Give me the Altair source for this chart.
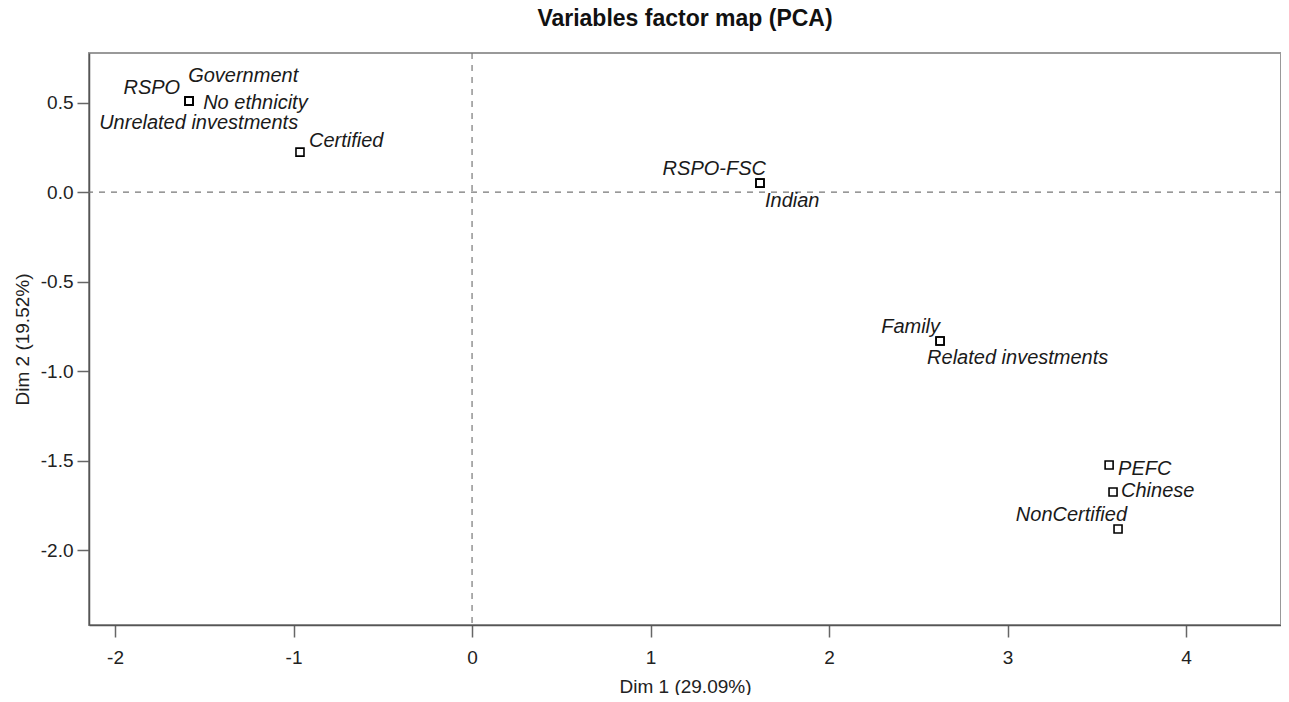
import altair as alt
import pandas as pd

# Variable coordinates on the first two PCA dimensions
variables = ["Government", "RSPO", "No ethnicity", "Unrelated investments",
             "Certified", "RSPO-FSC", "Indian", "Family", "Related investments",
             "PEFC", "Chinese", "NonCertified"]
dim1 = [-1.585, -1.585, -1.585, -1.585, -0.964, 1.613, 1.613, 2.622, 2.622,
        3.569, 3.591, 3.619]
dim2 = [0.508, 0.508, 0.508, 0.508, 0.223, 0.050, 0.050, -0.832, -0.832,
        -1.525, -1.676, -1.883]

x_ticks = [-2, -1, 0, 1, 2, 3, 4]
y_ticks = [-2.0, -1.5, -1.0, -0.5, 0.0, 0.5]

df = pd.DataFrame({"var": variables, "d1": dim1, "d2": dim2})
zero = pd.DataFrame({"z": [0]})

FONT = "Liberation Sans"
xs = alt.Scale(domain=[-2.146, 4.532], nice=False, zero=False)
ys = alt.Scale(domain=[-2.419, 0.777], nice=False, zero=False)

lab_expr = "datum.value < 0 ? '-' + format(abs(datum.value), '{f}') : format(datum.value, '{f}')"

x_enc = alt.X("d1:Q", scale=xs, title="Dim 1 (29.09%)",
              axis=alt.Axis(values=x_ticks, labelExpr=lab_expr.format(f="d"), grid=False,
                            labelPadding=11, titlePadding=10))
y_enc = alt.Y("d2:Q", scale=ys, title="Dim 2 (19.52%)",
              axis=alt.Axis(values=y_ticks, labelExpr=lab_expr.format(f=".1f"), grid=False,
                            labelPadding=4, titlePadding=8))

base = alt.Chart(df)

points = base.mark_point(shape="square", filled=False, size=64, strokeWidth=1.6,
                         color="black", opacity=1).encode(x=x_enc, y=y_enc)

vline = alt.Chart(zero).mark_rule(strokeDash=[6, 6], color="#777", strokeWidth=1.2).encode(
    x=alt.X("z:Q", scale=xs))
hline = alt.Chart(zero).mark_rule(strokeDash=[6, 6], color="#777", strokeWidth=1.2).encode(
    y=alt.Y("z:Q", scale=ys))

# label placement (align, dx, dy) per variable
placement = {
    "Government": ("left", -1, -25),
    "RSPO": ("right", -9, -13),
    "No ethnicity": ("left", 14, 2),
    "Unrelated investments": ("right", 109, 22),
    "Certified": ("left", 9, -11),
    "RSPO-FSC": ("right", 6, -14),
    "Indian": ("left", 5, 18),
    "Family": ("right", 0, -14),
    "Related investments": ("left", -13, 17),
    "PEFC": ("left", 9, 4),
    "Chinese": ("left", 8, -1),
    "NonCertified": ("right", 9, -14),
}

labels = []
for name, (al, dx, dy) in placement.items():
    labels.append(
        base.transform_filter(alt.datum.var == name).mark_text(
            align=al, baseline="middle", dx=dx, dy=dy, font=FONT, fontSize=20,
            fontStyle="italic", color="#1a1a1a").encode(
            x=alt.X("d1:Q", scale=xs), y=alt.Y("d2:Q", scale=ys), text="var:N")
    )

chart = alt.layer(vline, hline, points, *labels).properties(
    width=1192, height=572,
    title=alt.TitleParams("Variables factor map (PCA)", font=FONT, fontSize=23,
                          fontWeight="bold", color="#111", anchor="middle", offset=21),
    padding={"left": 81, "top": 45, "right": 0, "bottom": 70},
    autosize=alt.AutoSizeParams(type="none"),
).configure_view(
    stroke="#999", strokeWidth=2
).configure_axis(
    labelFont=FONT, titleFont=FONT, labelFontSize=19, titleFontSize=19,
    labelColor="#222", titleColor="#222", titleFontWeight="normal",
    domainColor="#555", domainWidth=1.5, tickColor="#666", tickWidth=1.5,
    tickSize=12
).configure_axisY(labelAngle=0)

chart.save("out.html", embed_options={"renderer": "svg", "actions": False})
